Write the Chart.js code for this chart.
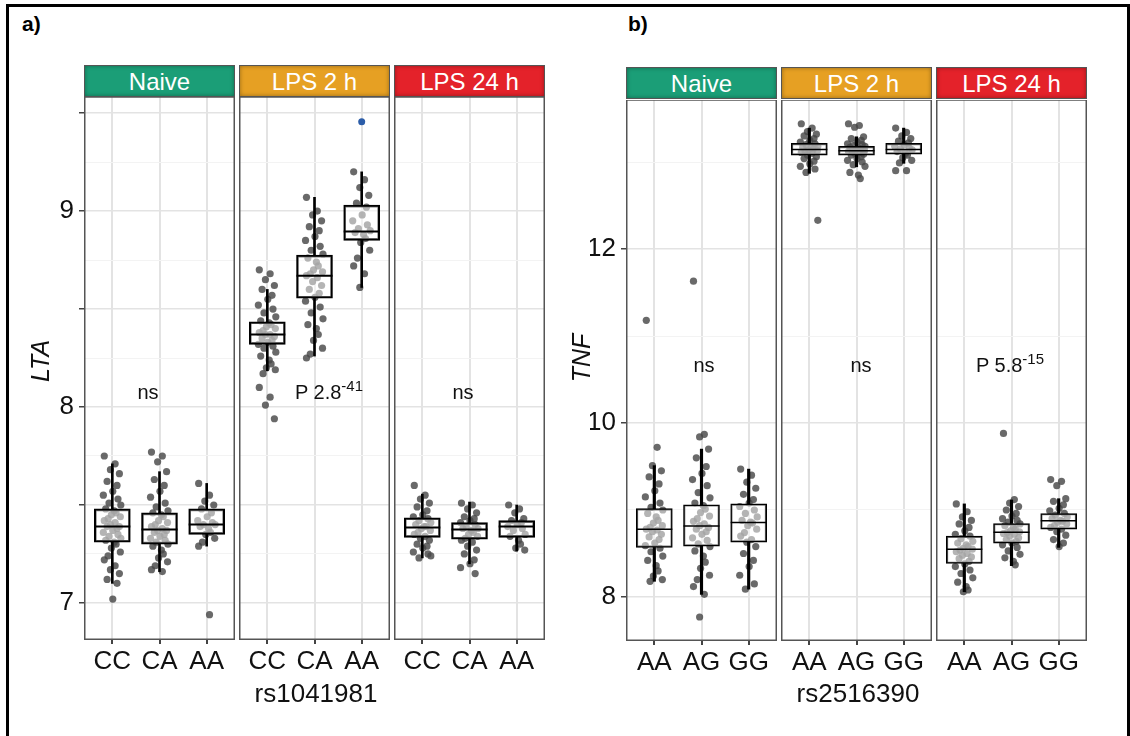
<!DOCTYPE html>
<html>
<head>
<meta charset="utf-8">
<script src="https://cdn.jsdelivr.net/npm/chart.js@4"></script>
<style>
  body { margin: 0; background: #fff; font-family: "Liberation Sans", Arial, sans-serif; }
  #fig { position: relative; width: 1130px; height: 736px; overflow: hidden; }
  #frame { position: absolute; left: 6px; top: 4px; width: 1118px; height: 760px; border: 3px solid #000; }
  canvas { position: absolute; }
  .strip { position: absolute; height: 32px; line-height: 32px; color: #fff; font-size: 24px; text-align: center;
           border: 1px solid #555; box-sizing: border-box; box-shadow: inset 0 0 4px rgba(0,0,0,0.35); }
  .txt { position: absolute; white-space: nowrap; color: #111; line-height: 1; }
  .lab { font-size: 21px; font-weight: bold; color: #000; }
  .ann { font-size: 20px; transform: translateX(-50%); }
  .ann sup { font-size: 15px; }
  .xt { font-size: 26px; transform: translateX(-50%); }
  .yt { font-size: 25px; font-style: italic; transform: translate(-50%, -50%) rotate(-90deg); }
</style>
</head>
<body>
<div id="fig">
  <div id="frame"></div>
  <div class="txt lab" style="left:22px;top:13px">a)</div>
  <div class="txt lab" style="left:628px;top:13px">b)</div>
</div>
<script>
// categories and facets
const CATS_A = ['CC', 'CA', 'AA'];
const CATS_B = ['AA', 'AG', 'GG'];
const FACETS = ['Naive', 'LPS 2 h', 'LPS 24 h'];
const STRIP_COLORS = ['#1b9e77', '#e6a023', '#e4222a'];

// y axis ticks
const A_LABELS = [7, 8, 9];
const A_MAJOR = [7, 7.5, 8, 8.5, 9, 9.5];
const A_MINOR = [7.25, 7.75, 8.25, 8.75, 9.25];
const B_LABELS = [8, 10, 12];
const B_MAJOR = [8, 10, 12];
const B_MINOR = [9, 11, 13];

// box stats per genotype: [lower whisker, q1, median, q3, upper whisker]
const A_NAIVE_BOX = [[7.10, 7.31, 7.39, 7.48, 7.71], [7.16, 7.30, 7.375, 7.46, 7.67], [7.29, 7.35, 7.40, 7.48, 7.61]];
const A_LPS2_BOX = [[8.185, 8.32, 8.37, 8.435, 8.60], [8.26, 8.555, 8.67, 8.775, 9.07], [8.61, 8.85, 8.895, 9.03, 9.20]];
const A_LPS24_BOX = [[7.23, 7.335, 7.385, 7.435, 7.555], [7.20, 7.325, 7.375, 7.41, 7.515], [7.265, 7.335, 7.39, 7.42, 7.50]];
const B_NAIVE_BOX = [[8.18, 8.57, 8.78, 9.015, 9.51], [8.03, 8.585, 8.815, 9.06, 9.70], [8.09, 8.63, 8.855, 9.07, 9.47]];
const B_LPS2_BOX = [[12.87, 13.08, 13.145, 13.215, 13.39], [12.945, 13.08, 13.13, 13.18, 13.29], [12.985, 13.09, 13.145, 13.215, 13.39]];
const B_LPS24_BOX = [[8.06, 8.385, 8.55, 8.70, 9.07], [8.36, 8.62, 8.745, 8.845, 9.115], [8.57, 8.78, 8.875, 8.96, 9.13]];

// individual samples
const A_NAIVE_PTS = [
  [7.75, 7.71, 7.68, 7.66, 7.62, 7.6, 7.57, 7.55, 7.53, 7.51, 7.5, 7.48, 7.47, 7.46, 7.45, 7.44, 7.43, 7.42, 7.41, 7.4, 7.39, 7.39, 7.38, 7.37, 7.36, 7.35, 7.34, 7.33, 7.32, 7.31, 7.3, 7.28, 7.26, 7.24, 7.22, 7.19, 7.17, 7.15, 7.12, 7.1, 7.02],
  [7.77, 7.75, 7.72, 7.67, 7.63, 7.6, 7.57, 7.54, 7.51, 7.49, 7.47, 7.46, 7.45, 7.44, 7.42, 7.41, 7.4, 7.39, 7.38, 7.37, 7.37, 7.36, 7.35, 7.34, 7.33, 7.32, 7.31, 7.3, 7.29, 7.27, 7.25, 7.23, 7.21, 7.19, 7.17, 7.16],
  [7.61, 7.55, 7.52, 7.5, 7.48, 7.46, 7.44, 7.42, 7.41, 7.4, 7.4, 7.39, 7.38, 7.36, 7.35, 7.33, 7.31, 7.29, 6.94]
];
const A_LPS2_PTS = [
  [8.7, 8.68, 8.65, 8.62, 8.6, 8.57, 8.55, 8.52, 8.5, 8.48, 8.46, 8.44, 8.43, 8.42, 8.41, 8.4, 8.39, 8.38, 8.37, 8.37, 8.36, 8.35, 8.34, 8.33, 8.32, 8.31, 8.3, 8.28, 8.26, 8.24, 8.22, 8.2, 8.19, 8.17, 8.1, 8.05, 8.01, 7.94],
  [9.07, 9.0, 8.98, 8.95, 8.92, 8.9, 8.87, 8.85, 8.82, 8.8, 8.78, 8.76, 8.74, 8.72, 8.7, 8.69, 8.68, 8.67, 8.66, 8.64, 8.62, 8.6, 8.58, 8.56, 8.54, 8.51, 8.48, 8.45, 8.42, 8.4, 8.37, 8.34, 8.3, 8.27, 8.25],
  [9.2, 9.16, 9.12, 9.08, 9.04, 9.02, 8.98, 8.95, 8.93, 8.91, 8.9, 8.89, 8.88, 8.86, 8.84, 8.8, 8.76, 8.72, 8.68, 8.61]
];
const A_LPS2_HIGHLIGHT = [[], [], [9.456]];
const A_LPS24_PTS = [
  [7.6, 7.55, 7.53, 7.51, 7.49, 7.47, 7.45, 7.44, 7.43, 7.42, 7.41, 7.4, 7.39, 7.39, 7.38, 7.37, 7.36, 7.35, 7.34, 7.33, 7.32, 7.3, 7.29, 7.28, 7.26, 7.25, 7.23, 7.24],
  [7.51, 7.5, 7.48, 7.46, 7.44, 7.43, 7.42, 7.41, 7.4, 7.39, 7.38, 7.38, 7.37, 7.36, 7.35, 7.34, 7.33, 7.32, 7.31, 7.29, 7.27, 7.25, 7.22, 7.2, 7.18, 7.15],
  [7.5, 7.48, 7.46, 7.43, 7.42, 7.41, 7.4, 7.39, 7.38, 7.37, 7.35, 7.34, 7.32, 7.3, 7.28, 7.27]
];
const B_NAIVE_PTS = [
  [11.18, 9.72, 9.51, 9.45, 9.38, 9.3, 9.22, 9.15, 9.08, 9.03, 9.0, 8.96, 8.92, 8.88, 8.85, 8.82, 8.8, 8.78, 8.77, 8.75, 8.72, 8.69, 8.66, 8.62, 8.59, 8.56, 8.52, 8.47, 8.42, 8.36, 8.3, 8.24, 8.2, 8.18],
  [11.63, 9.87, 9.84, 9.7, 9.6, 9.5, 9.42, 9.35, 9.28, 9.2, 9.14, 9.08, 9.05, 9.01, 8.97, 8.93, 8.9, 8.87, 8.84, 8.82, 8.8, 8.78, 8.75, 8.72, 8.68, 8.65, 8.61, 8.58, 8.53, 8.47, 8.4, 8.33, 8.25, 8.2, 8.12, 8.03, 7.77],
  [9.47, 9.4, 9.32, 9.25, 9.18, 9.12, 9.08, 9.04, 9.0, 8.96, 8.92, 8.88, 8.86, 8.85, 8.82, 8.78, 8.74, 8.7, 8.66, 8.63, 8.58, 8.5, 8.42, 8.35, 8.25, 8.15, 8.09]
];
const B_LPS2_PTS = [
  [13.44, 13.39, 13.35, 13.32, 13.3, 13.27, 13.25, 13.23, 13.21, 13.2, 13.18, 13.17, 13.16, 13.15, 13.14, 13.13, 13.12, 13.11, 13.1, 13.08, 13.06, 13.04, 13.01, 12.98, 12.95, 12.92, 12.88, 12.33],
  [13.44, 13.42, 13.4, 13.29, 13.27, 13.25, 13.23, 13.21, 13.2, 13.19, 13.18, 13.17, 13.16, 13.15, 13.14, 13.13, 13.13, 13.12, 13.11, 13.1, 13.09, 13.08, 13.06, 13.04, 13.02, 13.0, 12.97, 12.95, 12.88, 12.85, 12.81],
  [13.39, 13.34, 13.3, 13.27, 13.24, 13.22, 13.2, 13.18, 13.16, 13.15, 13.14, 13.12, 13.1, 13.08, 13.05, 13.02, 12.99, 12.9, 12.9]
];
const B_LPS24_PTS = [
  [9.07, 8.98, 8.92, 8.88, 8.84, 8.8, 8.76, 8.72, 8.7, 8.67, 8.64, 8.62, 8.6, 8.58, 8.56, 8.55, 8.54, 8.52, 8.5, 8.48, 8.46, 8.44, 8.41, 8.38, 8.35, 8.31, 8.27, 8.22, 8.17, 8.12, 8.08, 8.06],
  [9.88, 9.12, 9.08, 9.04, 9.0, 8.96, 8.93, 8.9, 8.88, 8.86, 8.84, 8.82, 8.8, 8.78, 8.76, 8.75, 8.74, 8.73, 8.72, 8.7, 8.68, 8.66, 8.64, 8.62, 8.6, 8.57, 8.53, 8.49, 8.45, 8.41, 8.37],
  [9.35, 9.33, 9.28, 9.13, 9.1, 9.06, 9.02, 8.99, 8.96, 8.94, 8.92, 8.9, 8.88, 8.87, 8.86, 8.84, 8.82, 8.8, 8.78, 8.75, 8.71, 8.66, 8.62, 8.58]
];

// fixed horizontal spread for the jitter
const JITTER = [-0.17, 0.06, -0.04, 0.15, -0.11, 0.1, 0.01, -0.19, 0.12, -0.07, 0.18, -0.14, 0.04, 0.08, -0.02, 0.17, -0.09];

Chart.defaults.font.family = '"Liberation Sans", Arial, sans-serif';
Chart.defaults.color = '#111';

const fig = document.getElementById('fig');
const Y_AXIS_W = 36;
const X_AXIS_H = 40;

function addText(cls, html, left, top) {
    const d = document.createElement('div');
    d.className = 'txt ' + cls;
    d.innerHTML = html;
    d.style.left = left + 'px';
    d.style.top = top + 'px';
    fig.appendChild(d);
}

function makeFacet(f) {
    const showY = f.showY;
    const canvas = document.createElement('canvas');
    const w = f.width + (showY ? Y_AXIS_W : 0);
    const h = f.bottom - f.top + X_AXIS_H;
    canvas.width = w;
    canvas.height = h;
    canvas.style.left = (f.left - (showY ? Y_AXIS_W : 0)) + 'px';
    canvas.style.top = f.top + 'px';
    fig.appendChild(canvas);

    // strip
    const s = document.createElement('div');
    s.className = 'strip';
    s.textContent = f.title;
    s.style.left = f.left + 'px';
    s.style.top = f.stripTop + 'px';
    s.style.width = f.width + 'px';
    s.style.background = f.color;
    fig.appendChild(s);

    const boxData = f.box.map((b, i) => ({ x: i + 1, y: [b[1], b[3]] }));
    const whiskData = [];
    f.box.forEach((b, i) => {
        whiskData.push({ x: i + 1, y: [b[0], b[1]] });
        whiskData.push({ x: i + 1, y: [b[3], b[4]] });
    });
    const ptData = [];
    f.pts.forEach((grp, i) => grp.forEach((v, k) => ptData.push({ x: i + 1 + JITTER[k % JITTER.length], y: v })));
    const hiData = [];
    (f.highlight || []).forEach((grp, i) => grp.forEach(v => hiData.push({ x: i + 1, y: v })));

    const allTicks = f.major.concat(f.minor).sort((a, b) => a - b);
    const isMajor = v => f.major.some(m => Math.abs(m - v) < 1e-6);
    const hasLabel = v => f.labels.some(m => Math.abs(m - v) < 1e-6);

    const extras = {
        id: 'boxExtras',
        afterDatasetsDraw(chart) {
            const { ctx, chartArea, scales: { x, y } } = chart;
            ctx.save();
            ctx.strokeStyle = '#000';
            ctx.lineWidth = f.boxLw;
            f.box.forEach((b, i) => {
                const cx = x.getPixelForValue(i + 1);
                const my = y.getPixelForValue(b[2]);
                ctx.beginPath();
                ctx.moveTo(cx - 18, my);
                ctx.lineTo(cx + 18, my);
                ctx.stroke();
            });
            ctx.strokeStyle = '#555';
            ctx.lineWidth = 1.5;
            ctx.strokeRect(chartArea.left + 0.75, chartArea.top, chartArea.width - 1.5, chartArea.height - 0.75);
            ctx.restore();
        }
    };

    new Chart(canvas, {
        type: 'bar',
        data: {
            datasets: [
                { type: 'bar', data: boxData, backgroundColor: 'rgba(255,255,255,0.5)', borderColor: '#000',
                  borderWidth: f.boxLw, borderSkipped: false, barThickness: 36, grouped: false },
                { type: 'bar', data: whiskData, backgroundColor: '#000', borderWidth: 0,
                  barThickness: f.whiskLw, grouped: false },
                { type: 'scatter', data: hiData, pointRadius: 3.5, pointBackgroundColor: '#2b5ca8', pointBorderWidth: 0 },
                { type: 'scatter', data: ptData, pointRadius: 3.6, pointBackgroundColor: 'rgba(72,72,72,0.82)', pointBorderWidth: 0 }
            ]
        },
        options: {
            responsive: false,
            animation: false,
            events: [],
            layout: { padding: 0, autoPadding: false },
            plugins: { legend: { display: false }, tooltip: { enabled: false } },
            scales: {
                x: {
                    type: 'linear', min: 0.4, max: 3.6, offset: false,
                    afterBuildTicks: sc => { sc.ticks = f.cats.map((c, i) => ({ value: i + 1 })); },
                    afterFit: sc => { sc.height = X_AXIS_H; sc.paddingLeft = 0; sc.paddingRight = 0; },
                    ticks: { callback: v => f.cats[v - 1], font: { size: 26 }, color: '#111', padding: 2, autoSkip: false, maxRotation: 0 },
                    grid: { color: '#e3e3e3', lineWidth: 2, tickLength: 4, tickColor: '#444', offset: false },
                    border: { display: false }
                },
                y: {
                    type: 'linear', min: f.ymin, max: f.ymax,
                    afterBuildTicks: sc => { sc.ticks = allTicks.map(v => ({ value: v })); },
                    afterFit: sc => { sc.width = showY ? Y_AXIS_W : 0; sc.paddingTop = 0; sc.paddingBottom = 0; },
                    ticks: {
                        display: showY, autoSkip: false, padding: 5, font: { size: 26 }, color: '#111',
                        callback: v => hasLabel(v) ? String(v) : ''
                    },
                    grid: {
                        drawTicks: showY, tickLength: 5,
                        color: c => isMajor(c.tick.value) ? '#e3e3e3' : '#f3f3f3',
                        lineWidth: c => isMajor(c.tick.value) ? 1.5 : 1,
                        tickColor: c => isMajor(c.tick.value) ? '#444' : 'rgba(0,0,0,0)'
                    },
                    border: { display: false }
                }
            }
        },
        plugins: [extras]
    });
}

// panel a
const A_LEFTS = [84, 239, 394];
[A_NAIVE_PTS, A_LPS2_PTS, A_LPS24_PTS].forEach((pts, i) => {
    makeFacet({
        left: A_LEFTS[i], width: 151, top: 97, bottom: 640, stripTop: 65,
        title: FACETS[i], color: STRIP_COLORS[i], showY: i === 0,
        cats: CATS_A, pts: pts, box: [A_NAIVE_BOX, A_LPS2_BOX, A_LPS24_BOX][i],
        highlight: i === 1 ? A_LPS2_HIGHLIGHT : null,
        ymin: 6.811, ymax: 9.582, major: A_MAJOR, minor: A_MINOR, labels: A_LABELS,
        boxLw: 2, whiskLw: 2
    });
});

// panel b
const B_LEFTS = [626, 781, 936];
[B_NAIVE_PTS, B_LPS2_PTS, B_LPS24_PTS].forEach((pts, i) => {
    makeFacet({
        left: B_LEFTS[i], width: 151, top: 100, bottom: 641, stripTop: 67,
        title: FACETS[i], color: STRIP_COLORS[i], showY: i === 0,
        cats: CATS_B, pts: pts, box: [B_NAIVE_BOX, B_LPS2_BOX, B_LPS24_BOX][i],
        ymin: 7.494, ymax: 13.713, major: B_MAJOR, minor: B_MINOR, labels: B_LABELS,
        boxLw: 1.5, whiskLw: 2.5
    });
});

// axis titles and annotations
addText('yt', 'LTA', 40, 361);
addText('yt', 'TNF', 581, 358);
addText('xt', 'rs1041981', 316, 680);
addText('xt', 'rs2516390', 858, 680);
addText('ann', 'ns', 148, 382);
addText('ann', 'P 2.8<sup>-41</sup>', 329, 378);
addText('ann', 'ns', 463, 382);
addText('ann', 'ns', 704, 355);
addText('ann', 'ns', 861, 355);
addText('ann', 'P 5.8<sup>-15</sup>', 1010, 351);
</script>
</body>
</html>
